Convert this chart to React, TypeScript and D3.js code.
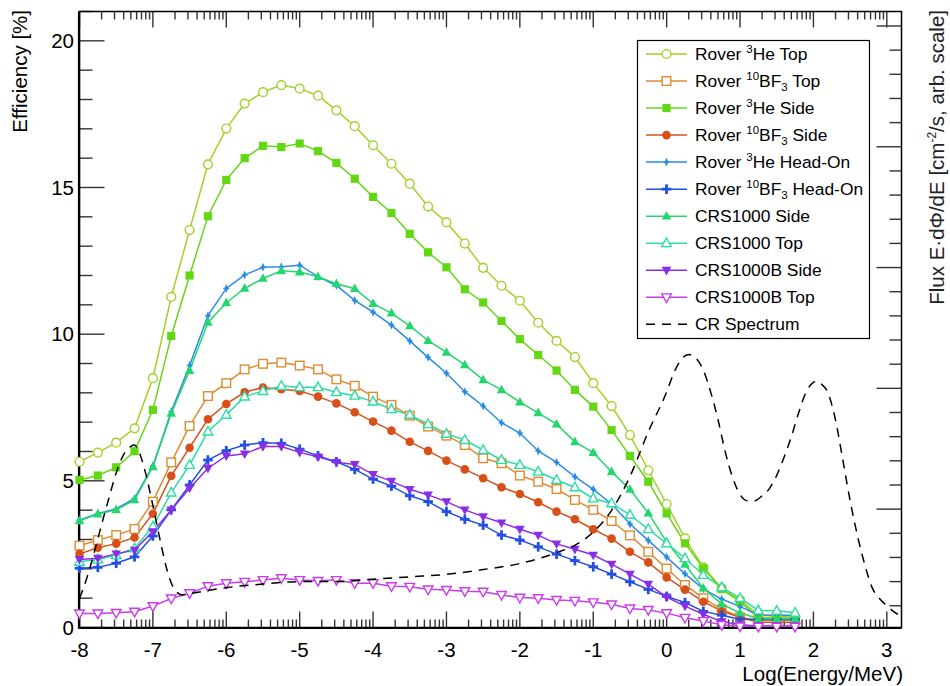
import React from 'react';
import * as d3 from 'd3';

// ---------- DATA ----------
const logE = [-8, -7.75, -7.5, -7.25, -7, -6.75, -6.5, -6.25, -6, -5.75, -5.5, -5.25, -5, -4.75, -4.5, -4.25, -4, -3.75, -3.5, -3.25, -3, -2.75, -2.5, -2.25, -2, -1.75, -1.5, -1.25, -1, -0.75, -0.5, -0.25, 0, 0.25, 0.5, 0.75, 1, 1.25, 1.5, 1.75];

const roverHeTop = [5.65, 5.96, 6.30, 6.79, 8.50, 11.27, 13.55, 15.79, 17.01, 17.86, 18.25, 18.49, 18.37, 18.13, 17.63, 17.09, 16.44, 15.81, 15.13, 14.35, 13.81, 13.09, 12.26, 11.65, 11.14, 10.39, 9.77, 9.22, 8.33, 7.55, 6.56, 5.36, 4.21, 3.04, 2.05, 1.34, 0.94, 0.42, 0.38, 0.37];
const roverBfTop = [2.79, 2.98, 3.15, 3.36, 4.29, 5.63, 6.87, 7.89, 8.33, 8.80, 8.99, 9.03, 8.93, 8.80, 8.46, 8.24, 7.87, 7.59, 7.22, 6.85, 6.54, 6.22, 5.77, 5.60, 5.18, 4.97, 4.72, 4.35, 4.01, 3.63, 3.14, 2.58, 2.01, 1.45, 1.00, 0.62, 0.35, 0.25, 0.25, 0.25];
const roverHeSide = [5.03, 5.18, 5.46, 6.01, 7.42, 9.94, 12.0, 14.02, 15.26, 16.0, 16.42, 16.38, 16.5, 16.24, 15.84, 15.3, 14.68, 14.13, 13.42, 12.79, 12.28, 11.53, 11.08, 10.45, 9.83, 9.29, 8.76, 8.10, 7.53, 6.73, 5.85, 4.97, 3.89, 2.87, 2.02, 1.31, 0.88, 0.34, 0.32, 0.32];
const roverBfSide = [2.51, 2.72, 2.86, 3.07, 3.88, 5.17, 6.13, 7.10, 7.62, 8.02, 8.18, 8.12, 8.06, 7.87, 7.64, 7.34, 7.02, 6.71, 6.33, 6.02, 5.69, 5.39, 5.09, 4.78, 4.55, 4.27, 3.95, 3.69, 3.35, 3.03, 2.58, 2.22, 1.71, 1.29, 0.88, 0.56, 0.35, 0.18, 0.18, 0.18];
const roverHeHead = [3.66, 3.89, 4.04, 4.40, 5.51, 7.36, 8.93, 10.63, 11.56, 12.02, 12.28, 12.30, 12.35, 11.96, 11.66, 11.15, 10.75, 10.31, 9.77, 9.21, 8.67, 8.04, 7.55, 6.98, 6.63, 6.02, 5.63, 5.14, 4.71, 4.21, 3.53, 2.97, 2.40, 1.83, 1.32, 0.97, 0.71, 0.43, 0.42, 0.42];
const roverBfHead = [2.02, 2.05, 2.19, 2.41, 3.12, 4.01, 4.86, 5.71, 6.03, 6.22, 6.30, 6.28, 6.08, 5.85, 5.65, 5.39, 5.06, 4.82, 4.49, 4.29, 3.95, 3.69, 3.49, 3.15, 2.98, 2.75, 2.50, 2.28, 2.07, 1.82, 1.56, 1.30, 1.06, 0.85, 0.55, 0.42, 0.28, 0.27, 0.27, 0.27];
const crsSide = [3.64, 3.87, 4.01, 4.35, 5.48, 7.30, 8.76, 10.4, 11.07, 11.56, 11.90, 12.16, 12.12, 11.96, 11.72, 11.55, 11.04, 10.72, 10.28, 9.78, 9.38, 8.95, 8.44, 8.10, 7.68, 7.32, 6.93, 6.33, 5.96, 5.31, 4.71, 3.90, 2.92, 2.15, 1.34, 0.80, 0.50, 0.30, 0.30, 0.30];
const crsTop = [2.24, 2.32, 2.47, 2.70, 3.44, 4.60, 5.54, 6.68, 7.25, 7.87, 8.06, 8.23, 8.19, 8.19, 8.02, 7.90, 7.70, 7.44, 7.25, 6.93, 6.60, 6.39, 6.05, 5.71, 5.54, 5.31, 5.03, 4.78, 4.40, 4.23, 3.84, 3.35, 2.87, 2.36, 1.79, 1.37, 1.00, 0.58, 0.57, 0.50];
const crsbSide = [2.32, 2.36, 2.51, 2.64, 3.27, 4.01, 4.75, 5.43, 5.85, 5.92, 6.17, 6.17, 5.97, 5.82, 5.63, 5.56, 5.22, 4.99, 4.71, 4.52, 4.29, 4.01, 3.78, 3.57, 3.35, 3.15, 2.85, 2.67, 2.47, 2.16, 1.82, 1.48, 1.04, 0.73, 0.45, 0.20, 0.09, 0.05, 0.05, 0.05];
const crsbTop = [0.48, 0.48, 0.50, 0.54, 0.73, 0.99, 1.17, 1.41, 1.51, 1.56, 1.62, 1.68, 1.62, 1.59, 1.62, 1.51, 1.51, 1.41, 1.39, 1.30, 1.28, 1.24, 1.22, 1.11, 1.02, 1.00, 0.94, 0.91, 0.86, 0.79, 0.65, 0.60, 0.49, 0.33, 0.22, 0.09, 0.04, 0.03, 0.03, 0.03];

// Cosmic-ray spectrum (right axis, arbitrary units)
const crLogE = [-8.0, -7.9, -7.8, -7.7, -7.6, -7.5, -7.4, -7.3, -7.25, -7.2, -7.1, -7.0, -6.9, -6.8, -6.7, -6.6, -6.5, -6.0, -5.5, -5.0, -4.5, -4.0, -3.5, -3.0, -2.5, -2.0, -1.5, -1.25, -1.0, -0.75, -0.5, -0.25, 0, 0.1, 0.2, 0.3, 0.4, 0.5, 0.6, 0.7, 0.8, 0.9, 1.0, 1.1, 1.2, 1.3, 1.4, 1.5, 1.6, 1.7, 1.8, 1.9, 2.0, 2.05, 2.1, 2.2, 2.3, 2.4, 2.5, 2.6, 2.7, 2.8, 2.9, 3.0, 3.1, 3.2];
const crFlux = [0.26, 0.43, 0.64, 0.87, 1.09, 1.30, 1.45, 1.52, 1.53, 1.49, 1.30, 1.03, 0.74, 0.48, 0.33, 0.29, 0.30, 0.35, 0.38, 0.40, 0.40, 0.42, 0.44, 0.46, 0.50, 0.55, 0.64, 0.70, 0.81, 0.99, 1.27, 1.64, 1.97, 2.13, 2.24, 2.28, 2.25, 2.15, 1.97, 1.74, 1.47, 1.26, 1.12, 1.07, 1.07, 1.11, 1.17, 1.28, 1.43, 1.60, 1.80, 1.97, 2.05, 2.06, 2.04, 1.96, 1.74, 1.41, 1.07, 0.78, 0.54, 0.35, 0.26, 0.20, 0.15, 0.11];

const xTickValues = [-8, -7, -6, -5, -4, -3, -2, -1, 0, 1, 2, 3];
const yTickValues = [0, 5, 10, 15, 20];
const seriesNames = ['Rover 3He Top', 'Rover 10BF3 Top', 'Rover 3He Side', 'Rover 10BF3 Side', 'Rover 3He Head-On', 'Rover 10BF3 Head-On', 'CRS1000 Side', 'CRS1000 Top', 'CRS1000B Side', 'CRS1000B Top'];
const seriesColors = ['#a0d228', '#dc8c32', '#64d714', '#d75019', '#288ce6', '#2350e1', '#23d76e', '#2ddca5', '#8c2de6', '#c83ceb'];
const seriesMarkers = ['openCircle', 'openSquare', 'square', 'circle', 'thinCross', 'thickCross', 'triUp', 'openTriUp', 'triDown', 'openTriDown'];
const seriesValues = [roverHeTop, roverBfTop, roverHeSide, roverBfSide, roverHeHead, roverBfHead, crsSide, crsTop, crsbSide, crsbTop];

// ---------- LAYOUT ----------
const W = 950, H = 686;
const L = 79.5, R = 901.5, T = 11.5, B = 627.5;
const FONT = 'Liberation Sans, Arial, Helvetica, sans-serif';

const x = d3.scaleLinear().domain([-8, 3.2]).range([L, R]);
const y = d3.scaleLinear().domain([0, 21]).range([B, T]);
const yR = d3.scaleLinear().domain([0.02, 5.12]).range([B, T]);

function Marker({ type, cx, cy, color }: { type: string; cx: number; cy: number; color: string }) {
  const sw = 1.4;
  switch (type) {
    case 'openCircle':
      return <circle cx={cx} cy={cy} r={4.4} fill="white" stroke={color} strokeWidth={sw} />;
    case 'circle':
      return <circle cx={cx} cy={cy} r={4.3} fill={color} />;
    case 'openSquare':
      return <rect x={cx - 4.3} y={cy - 4.3} width={8.6} height={8.6} fill="white" stroke={color} strokeWidth={sw} />;
    case 'square':
      return <rect x={cx - 4.1} y={cy - 4.1} width={8.2} height={8.2} fill={color} />;
    case 'thinCross':
      return (
        <g>
          <path d={`M${cx},${cy - 4.5} L${cx + 1.9},${cy} L${cx},${cy + 4.5} L${cx - 1.9},${cy} Z`} fill={color} />
          <line x1={cx - 3} x2={cx + 3} y1={cy} y2={cy} stroke={color} strokeWidth={1.3} />
        </g>
      );
    case 'thickCross':
      return (
        <g fill={color}>
          <rect x={cx - 4.8} y={cy - 1.4} width={9.6} height={2.8} />
          <rect x={cx - 1.4} y={cy - 4.8} width={2.8} height={9.6} />
        </g>
      );
    case 'triUp':
      return <path d={`M${cx},${cy - 5.2} L${cx + 4.8},${cy + 3.4} L${cx - 4.8},${cy + 3.4} Z`} fill={color} />;
    case 'openTriUp':
      return <path d={`M${cx},${cy - 5.2} L${cx + 4.8},${cy + 3.4} L${cx - 4.8},${cy + 3.4} Z`} fill="white" stroke={color} strokeWidth={sw} />;
    case 'triDown':
      return <path d={`M${cx},${cy + 5.2} L${cx + 4.8},${cy - 3.4} L${cx - 4.8},${cy - 3.4} Z`} fill={color} />;
    case 'openTriDown':
      return <path d={`M${cx},${cy + 5.2} L${cx + 4.8},${cy - 3.4} L${cx - 4.8},${cy - 3.4} Z`} fill="white" stroke={color} strokeWidth={sw} />;
    default:
      return null;
  }
}

function LegendLabel({ name, tx, ty }: { name: string; tx: number; ty: number }) {
  const fs = 17.4;
  let m = name.match(/^Rover 3He (.*)$/);
  if (m) {
    return (
      <text x={tx} y={ty} fontSize={fs} fontFamily={FONT}>
        Rover <tspan dy={-7} fontSize={11.5}>3</tspan><tspan dy={7}>He {m[1]}</tspan>
      </text>
    );
  }
  m = name.match(/^Rover 10BF3 (.*)$/);
  if (m) {
    return (
      <text x={tx} y={ty} fontSize={fs} fontFamily={FONT}>
        Rover <tspan dy={-7} fontSize={11.5}>10</tspan><tspan dy={7}>BF</tspan><tspan dy={4} fontSize={11.5}>3</tspan><tspan dy={-4}> {m[1]}</tspan>
      </text>
    );
  }
  return (
    <text x={tx} y={ty} fontSize={fs} fontFamily={FONT}>{name}</text>
  );
}

export default function App() {
  const line = d3.line<number>().x((_, i) => x(logE[i])).y((d) => y(d));
  const crLine = d3.line<number>().x((_, i) => x(crLogE[i])).y((d) => yR(d)).curve(d3.curveMonotoneX);

  // x minor ticks (logarithmic within each decade)
  const xMinor: number[] = [];
  for (let d = -8; d <= 3; d++) {
    for (let k = 2; k <= 9; k++) {
      const v = d + Math.log10(k);
      if (v <= 3.2) xMinor.push(v);
    }
  }
  const yMinor = d3.range(1, 22).filter((v) => v % 5 !== 0 && v <= 21);
  const yRMajor = [1, 2, 3, 4, 5];
  const yRMinor = d3.range(1, 26).map((k) => k * 0.2).filter((v) => Math.abs(v - Math.round(v)) > 1e-6 && v <= 5.12);

  const tickColor = '#333';
  const legendRows = [...seriesNames, 'CR Spectrum'];
  const legY0 = 54, legDy = 27.03;

  return (
    <svg width={W} height={H} style={{ position: 'absolute', left: 0, top: 0, background: 'white' }} fontFamily={FONT}>
      <rect x={0} y={0} width={W} height={H} fill="white" />
      <defs>
        <clipPath id="plotclip">
          <rect x={L} y={T} width={R - L} height={B - T} />
        </clipPath>
      </defs>

      {/* ticks */}
      <g stroke={tickColor} strokeWidth={1.4}>
        {xTickValues.map((v) => (
          <g key={'xt' + v}>
            <line x1={x(v)} x2={x(v)} y1={B} y2={B - 16} />
            <line x1={x(v)} x2={x(v)} y1={T} y2={T + 16} />
          </g>
        ))}
        {xMinor.map((v, i) => (
          <g key={'xm' + i}>
            <line x1={x(v)} x2={x(v)} y1={B} y2={B - 8} />
            <line x1={x(v)} x2={x(v)} y1={T} y2={T + 8} />
          </g>
        ))}
        {yTickValues.map((v) => (
          <line key={'yt' + v} x1={L} x2={L + 25} y1={y(v)} y2={y(v)} />
        ))}
        {yMinor.map((v) => (
          <line key={'ym' + v} x1={L} x2={L + 13} y1={y(v)} y2={y(v)} />
        ))}
        {yRMajor.map((v) => (
          <line key={'yr' + v} x1={R} x2={R - 25} y1={yR(v)} y2={yR(v)} />
        ))}
        {yRMinor.map((v, i) => (
          <line key={'yrm' + i} x1={R} x2={R - 12} y1={yR(v)} y2={yR(v)} />
        ))}
      </g>

      {/* frame */}
      <rect x={L} y={T} width={R - L} height={B - T} fill="none" stroke="black" strokeWidth={1.5} />
      <line x1={L - 0.5} x2={L - 0.5} y1={T} y2={B + 1} stroke="black" strokeWidth={2.2} />
      <line x1={L - 1} x2={R} y1={B + 0.5} y2={B + 0.5} stroke="black" strokeWidth={2.2} />

      {/* series */}
      <g clipPath="url(#plotclip)">
        {seriesValues.map((vals, s) => (
          <path key={'l' + s} d={line(vals) || ''} fill="none" stroke={seriesColors[s]} strokeWidth={1.5} />
        ))}
      </g>
      {seriesValues.map((vals, s) => (
        <g key={'m' + s}>
          {vals.map((v, i) => (
            <Marker key={i} type={seriesMarkers[s]} cx={x(logE[i])} cy={y(v)} color={seriesColors[s]} />
          ))}
        </g>
      ))}
      <g clipPath="url(#plotclip)">
        <path d={crLine(crFlux) || ''} fill="none" stroke="black" strokeWidth={1.5} strokeDasharray="9,7" />
      </g>

      {/* tick labels */}
      {xTickValues.map((v) => (
        <text key={'xl' + v} x={x(v)} y={657} fontSize={20.5} textAnchor="middle">{v}</text>
      ))}
      {yTickValues.map((v) => (
        <text key={'yl' + v} x={74} y={y(v) + 7} fontSize={20.5} textAnchor="end">{v}</text>
      ))}

      {/* axis titles */}
      <text x={903} y={681} fontSize={20.5} textAnchor="end">Log(Energy/MeV)</text>
      <text transform={`translate(27,10) rotate(-90)`} fontSize={20.5} textAnchor="end">Efficiency [%]</text>
      <text transform={`translate(944,10) rotate(-90)`} fontSize={20.5} textAnchor="end" fill="#222">
        Flux E·dΦ/dE [cm<tspan dy={-8} fontSize={12}>-2</tspan><tspan dy={8}>/s, arb. scale]</tspan>
      </text>

      {/* legend */}
      <rect x={637.5} y={40.5} width={232} height={298} fill="white" stroke="black" strokeWidth={1.2} />
      {legendRows.map((name, r) => {
        const ry = legY0 + r * legDy;
        if (r < seriesNames.length) {
          return (
            <g key={'lg' + r}>
              <line x1={646} x2={687} y1={ry} y2={ry} stroke={seriesColors[r]} strokeWidth={1.5} />
              <Marker type={seriesMarkers[r]} cx={666.5} cy={ry} color={seriesColors[r]} />
              <LegendLabel name={name} tx={695} ty={ry + 6} />
            </g>
          );
        }
        return (
          <g key={'lg' + r}>
            <line x1={646} x2={688} y1={ry} y2={ry} stroke="black" strokeWidth={1.5} strokeDasharray="9,7" />
            <LegendLabel name={name} tx={695} ty={ry + 6} />
          </g>
        );
      })}
    </svg>
  );
}
